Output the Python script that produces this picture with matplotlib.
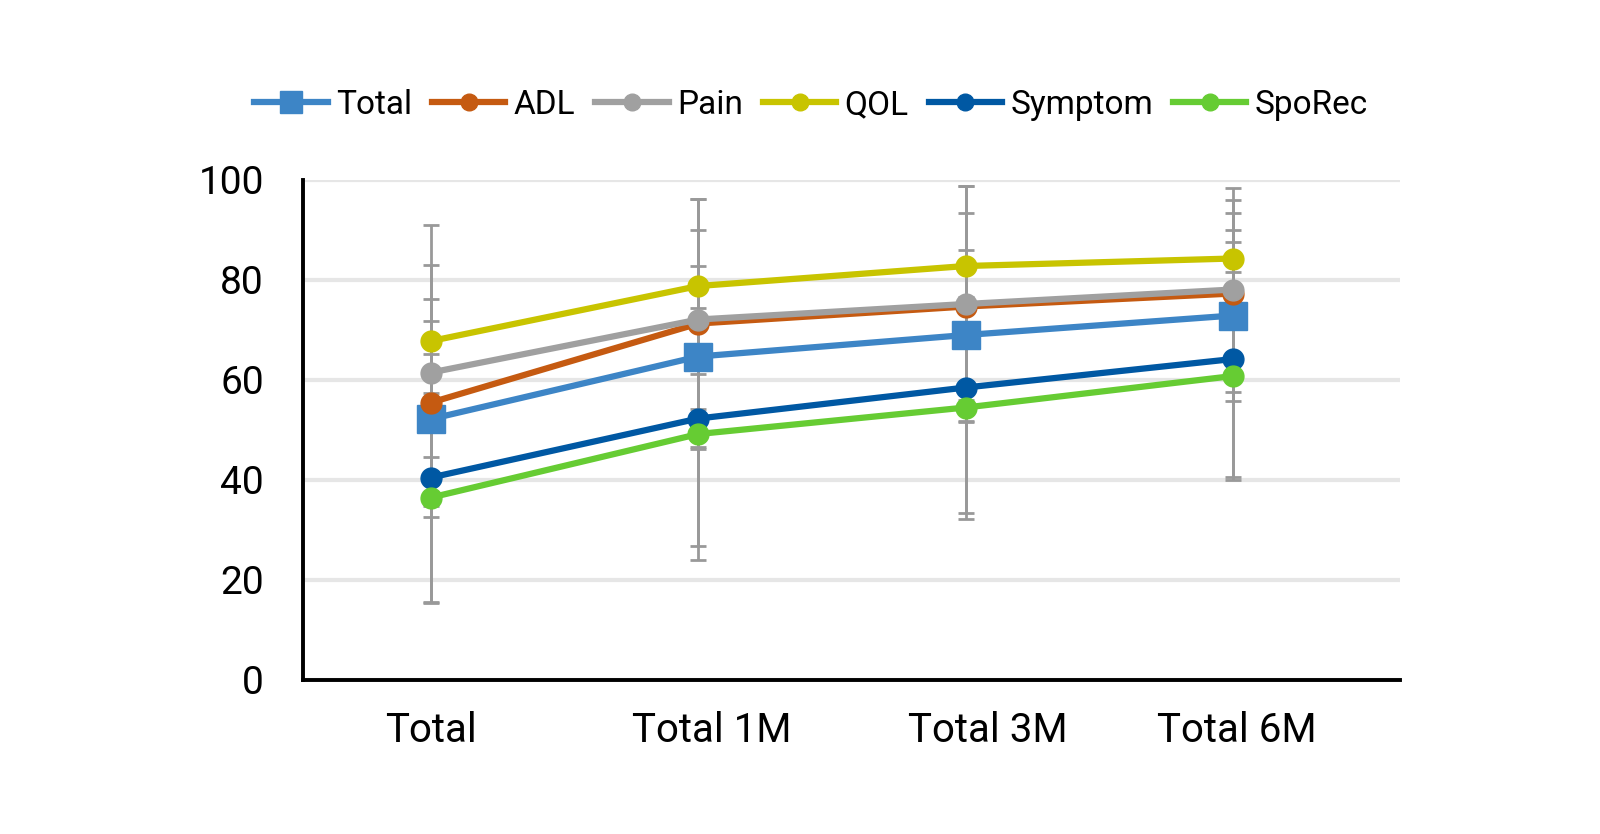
import numpy as np
import matplotlib
matplotlib.use("Agg")
import matplotlib.pyplot as plt
from matplotlib.transforms import ScaledTranslation

plt.rcParams['font.family'] = ['Roboto', 'DejaVu Sans']

# data
categories = ["Total", "Total 1M", "Total 3M", "Total 6M"]
series_names = ["Total", "ADL", "Pain", "QOL", "Symptom", "SpoRec"]

total_mean = [52.2, 64.7, 69.0, 72.9]
adl_mean = [55.5, 71.3, 74.7, 77.3]
pain_mean = [61.5, 72.1, 75.2, 78.1]
qol_mean = [67.8, 78.8, 82.8, 84.3]
symptom_mean = [40.5, 52.3, 58.5, 64.2]
sporec_mean = [36.5, 49.2, 54.5, 60.8]

total_sd = [19.6, 18.1, 17.1, 17.1]
adl_sd = [20.7, 25.0, 18.6, 16.2]
pain_sd = [21.5, 17.9, 23.6, 20.4]
qol_sd = [23.2, 17.5, 16.0, 11.7]
symptom_sd = [24.8, 25.4, 25.0, 23.5]
sporec_sd = [21.0, 25.2, 22.2, 20.8]

means = [total_mean, adl_mean, pain_mean, qol_mean, symptom_mean, sporec_mean]
sds = [total_sd, adl_sd, pain_sd, qol_sd, symptom_sd, sporec_sd]
colors = ['#3D85C6', '#C55A11', '#A0A0A0', '#C8C400', '#0058A3', '#66CC33']
markers = ['s', 'o', 'o', 'o', 'o', 'o']

x = np.arange(len(categories))

fig = plt.figure(figsize=(16, 8.34), dpi=100)
ax = fig.add_axes([303/1600, 1-680/834, 1097/1600, 500/834])

# error bars first, all in gray, behind the lines
for m, s in zip(means, sds):
    ax.errorbar(x, m, yerr=s, fmt='none', ecolor='#999999', elinewidth=2,
                capsize=6, capthick=2, zorder=2)

for name, m, c, mk in zip(series_names, means, colors, markers):
    ms = 20 if mk == 's' else 15
    ax.plot(x, m, color=c, linewidth=4.5, marker=mk, markersize=ms,
            label=name, zorder=3)

ax.set_ylim(0, 100)
ax.set_xlim(-0.479, 3.624)
ax.set_yticks([0, 20, 40, 60, 80, 100])
ax.set_xticks(x)
ax.set_xticklabels(categories, fontsize=29)
ax.tick_params(axis='y', length=0, pad=28, labelsize=28)
ax.tick_params(axis='x', length=0, pad=22)

# labels sit a little right of the points in the original
label_shift = [0, 13, 22, 4]
for lab, dx in zip(ax.get_xticklabels(), label_shift):
    lab.set_transform(lab.get_transform() + ScaledTranslation(dx/100, 0, fig.dpi_scale_trans))

ax.grid(axis='y', color='#E6E6E6', linewidth=3, zorder=0)
ax.set_axisbelow(True)
for side in ['top', 'right']:
    ax.spines[side].set_visible(False)
for side in ['left', 'bottom']:
    ax.spines[side].set_linewidth(2.8)
    ax.spines[side].set_color('black')

fig.legend(loc='center', bbox_to_anchor=(0.507, 0.874), ncol=6, frameon=False,
           fontsize=24, handlelength=2.2, handletextpad=0.25, columnspacing=0.6,
           markerscale=0.8)

fig.savefig("out.png", dpi=100, facecolor='white')
